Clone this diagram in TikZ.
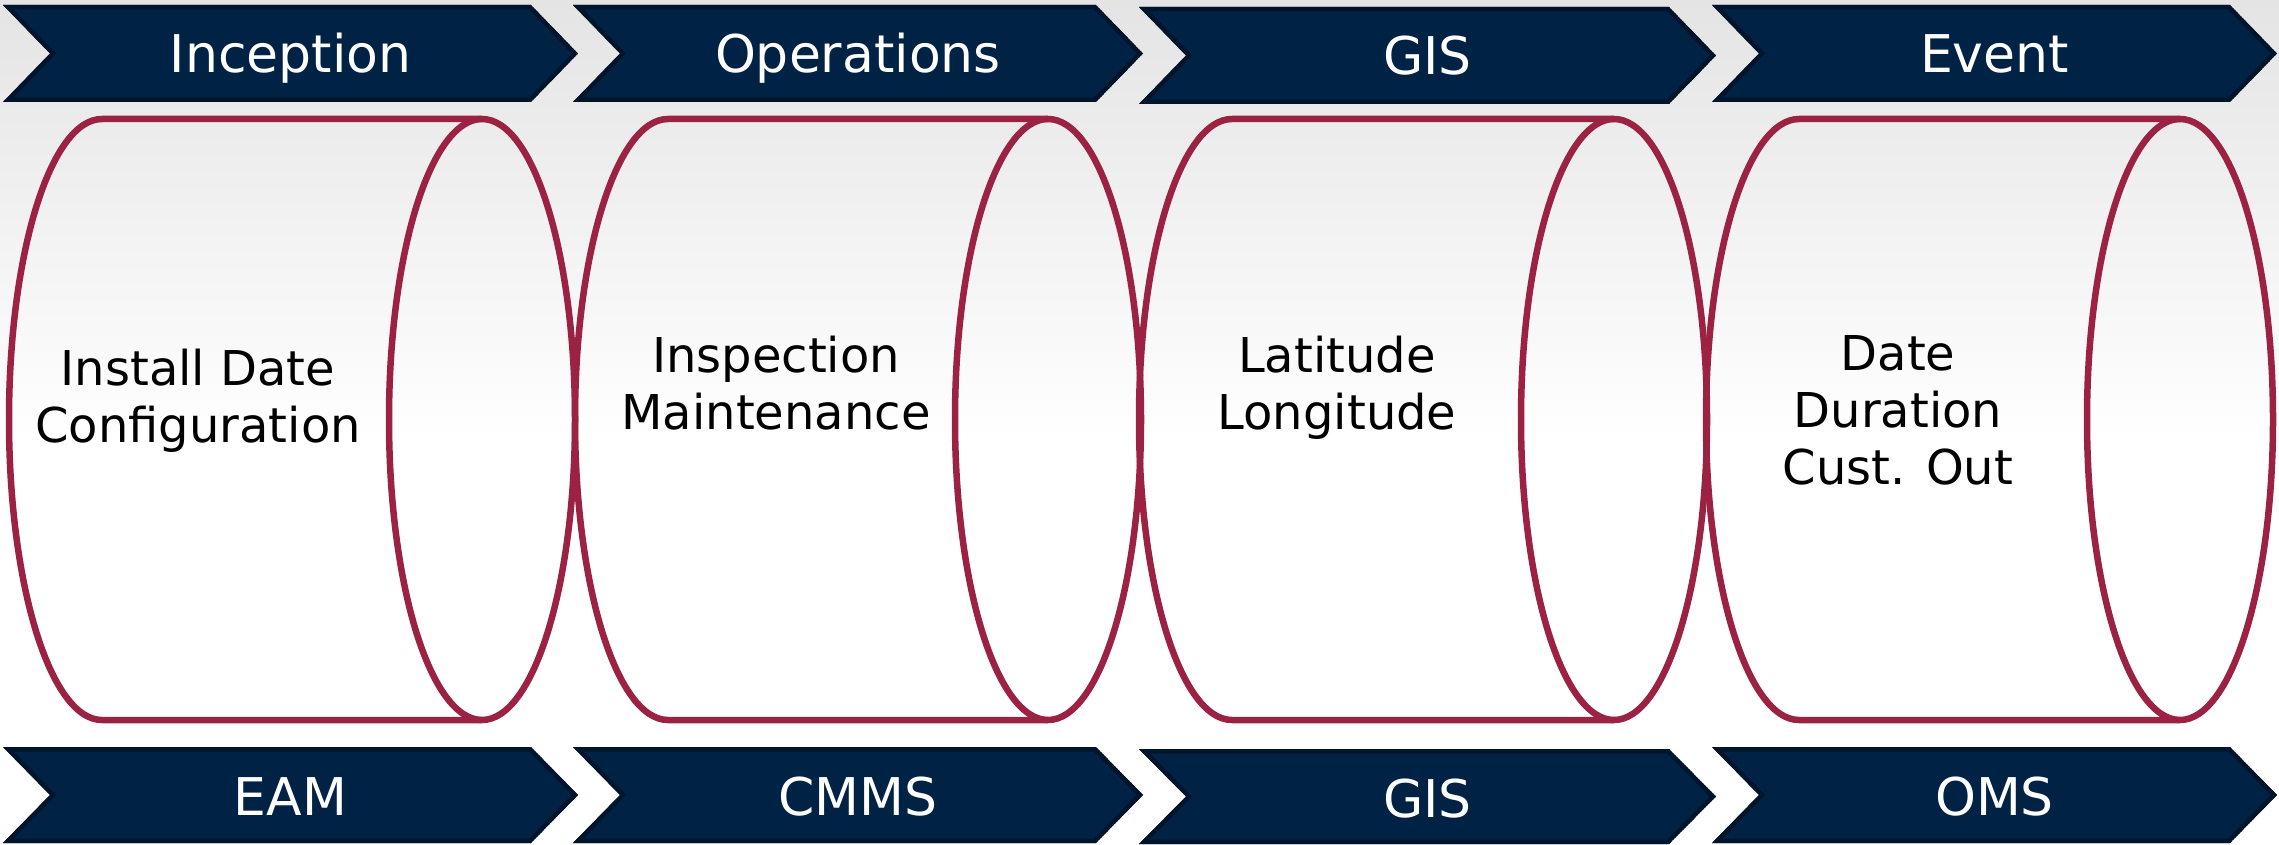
\documentclass[tikz,border=0pt]{standalone}
\usepackage{fontspec}
\setmainfont{DejaVu Sans}
\definecolor{navy}{RGB}{0,34,68}
\definecolor{navyedge}{RGB}{0,21,44}
\definecolor{maroon}{RGB}{155,34,66}
\definecolor{bgtop}{RGB}{228,228,228}
\tikzset{
  chevfill/.style={fill=navy},
  chevedge/.style={draw=navyedge, line width=9pt, line join=miter},
  cylline/.style={draw=maroon, line width=6.5pt, line join=round},
  headtext/.style={text=white, inner sep=0pt, anchor=base, font=\fontsize{52}{60}\selectfont},
  bodytext/.style={text=black, inner sep=0pt, anchor=base, font=\fontsize{48}{57}\selectfont}
}
\newcommand\chevpath[4]{(#1,#3) -- (#2-47,#3) -- (#2,{(#3+#4)/2}) -- (#2-47,#4) -- (#1,#4) -- (#1+47,{(#3+#4)/2}) -- cycle}
\newcommand\mychev[4]{%
  \begin{scope}
    \clip \chevpath{#1}{#2}{#3}{#4};
    \path[chevfill] \chevpath{#1}{#2}{#3}{#4};
    \path[chevedge] \chevpath{#1}{#2}{#3}{#4};
  \end{scope}}
\newcommand\mycyl[2]{%
  \path[cylline] (#2,119) -- (#1,119) arc[start angle=90, end angle=270, x radius=93pt, y radius=300.5pt] -- (#2,720);
  \path[cylline] (#2,419.5) ellipse[x radius=93pt, y radius=300.5pt];}
\newcommand\lines[1]{\setlength{\tabcolsep}{0pt}\begin{tabular}[t]{c}#1\end{tabular}}
\begin{document}
\begin{tikzpicture}[x=1pt, y=-1pt]
\useasboundingbox (0,0) rectangle (2279,845);
\fill[white] (0,0) rectangle (2279,845);
\shade[top color=bgtop, bottom color=white] (0,0) rectangle (2279,440);
% top chevrons
\mychev{3}{578}{5}{102}
\mychev{573}{1143}{5}{102}
\mychev{1139}{1716}{7}{104}
\mychev{1712}{2277}{5}{102}
% bottom chevrons
\mychev{3}{578}{747}{843}
\mychev{573}{1143}{747}{843}
\mychev{1139}{1716}{749}{844}
\mychev{1712}{2277}{747}{843}
% cylinders
\mycyl{102}{482}
\mycyl{668}{1048}
\mycyl{1232}{1614}
\mycyl{1799}{2180}
% header texts
\node[headtext] (h1) at (290.5,73) {Inception};
\node[headtext] (h2) at (858,73) {Operations};
\node[headtext] (h3) at (1427.5,75) {GIS};
\node[headtext] (h4) at (1994.5,73) {Event};
% footer texts
\node[headtext] (f1) at (290.5,815) {EAM};
\node[headtext] (f2) at (858,815) {CMMS};
\node[headtext] (f3) at (1427.5,817) {GIS};
\node[headtext] (f4) at (1994.5,815) {OMS};
% body texts
\node[bodytext] (b1) at (198,385) {\lines{Install Date\\Configuration}};
\node[bodytext] (b2) at (776,372) {\lines{Inspection\\Maintenance}};
\node[bodytext] (b3) at (1337,372) {\lines{Latitude\\Longitude}};
\node[bodytext] (b4) at (1898,370) {\lines{Date\\Duration\\Cust. Out}};
\end{tikzpicture}
\end{document}
